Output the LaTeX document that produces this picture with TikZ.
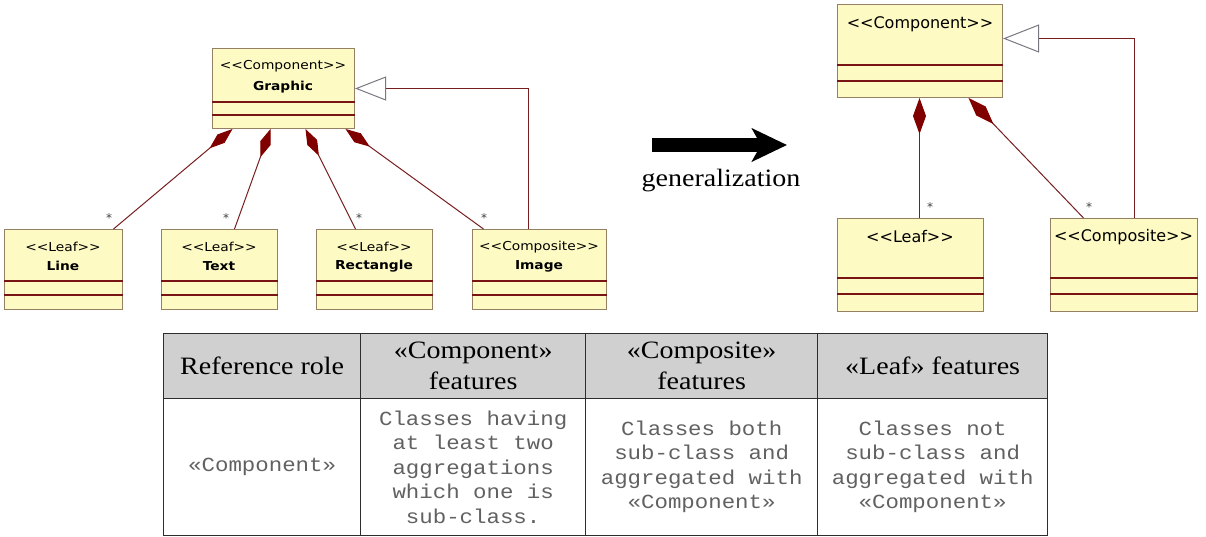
\documentclass[tikz,border=0pt]{standalone}
\usepackage{fontspec}
\usetikzlibrary{arrows.meta,calc}

% fonts
\newfontfamily\umlfont[FakeStretch=1.12]{DejaVu Sans}
\newfontfamily\umlbig{DejaVu Sans}
\newfontfamily\tabserif[FakeStretch=1.12]{Liberation Serif}
\newfontfamily\tabmono[FakeStretch=1.12]{Liberation Mono}

% colours
\definecolor{classfill}{RGB}{253,250,196}
\definecolor{classedge}{RGB}{150,128,100}
\definecolor{sepline}{RGB}{120,20,20}
\definecolor{assoc}{RGB}{120,30,30}
\definecolor{diam}{RGB}{128,0,0}
\definecolor{trigray}{RGB}{120,120,130}
\definecolor{headfill}{RGB}{208,208,208}
\definecolor{tabrule}{RGB}{45,45,45}

\tikzset{
  classbox/.style={draw=classedge, fill=classfill, line width=1pt, rectangle,
    inner sep=0pt, anchor=north west},
  sepl/.style={draw=sepline, line width=1.1pt},
  stereo/.style={font=\umlfont\fontsize{12.3}{14}\selectfont, inner sep=0pt},
  cname/.style={font=\umlfont\bfseries\fontsize{12.3}{14}\selectfont, inner sep=0pt},
  stereobig/.style={font=\umlbig\fontsize{16}{19}\selectfont, inner sep=0pt},
  mult/.style={font=\umlbig\fontsize{12}{14}\selectfont, text=black!75, inner sep=0pt},
  assocline/.style={draw=assoc, line width=1pt},
  compsmall/.style={assocline, {Diamond[length=30pt,width=11pt,color=diam,fill=diam]}-},
  compbig/.style={assocline, {Diamond[length=36pt,width=13pt,color=diam,fill=diam]}-},
  gensmall/.style={assocline, -{Triangle[open,length=31pt,width=24pt,color=trigray,fill=white]}},
  genbig/.style={assocline, -{Triangle[open,length=36pt,width=28pt,color=trigray,fill=white]}},
  cell/.style={draw=tabrule, line width=1.3pt, rectangle, inner sep=0pt,
    anchor=north west, align=center},
  headcell/.style={cell, fill=headfill, minimum height=65pt,
    font=\tabserif\fontsize{25}{31}\selectfont},
  bodycell/.style={cell, fill=white, minimum height=136.5pt,
    font=\tabmono\fontsize{20}{24.5}\selectfont, text=black!62},
}

\begin{document}
\begin{tikzpicture}[x=1pt, y=-1pt]
\useasboundingbox (0,0) rectangle (1206,536);

% ---------- concrete model (left) ----------
\node[classbox, minimum width=142pt, minimum height=80pt] (graphic) at (212,48) {};
\draw[sepl] (graphic.west |- 0,102) -- (graphic.east |- 0,102);
\draw[sepl] (graphic.west |- 0,115) -- (graphic.east |- 0,115);
\node[stereo] (graphicS) at (283,66) {<<Component>>};
\node[cname] (graphicN) at (283,87) {Graphic};

\node[classbox, minimum width=118pt, minimum height=80pt] (cline) at (4,229) {};
\node[classbox, minimum width=116pt, minimum height=80pt] (ctext) at (161,229) {};
\node[classbox, minimum width=116pt, minimum height=80pt] (crect) at (316,229) {};
\node[classbox, minimum width=134pt, minimum height=80pt] (cimage) at (472,229) {};
\foreach \c in {cline,ctext,crect,cimage}{
  \draw[sepl] (\c.west |- 0,281) -- (\c.east |- 0,281);
  \draw[sepl] (\c.west |- 0,295) -- (\c.east |- 0,295);
}
\node[stereo] (clineS) at (63,247) {<<Leaf>>};
\node[cname] (clineN) at (63,266) {Line};
\node[stereo] (ctextS) at (219,247) {<<Leaf>>};
\node[cname] (ctextN) at (219,266) {Text};
\node[stereo] (crectS) at (374,247) {<<Leaf>>};
\node[cname] (crectN) at (374,266) {Rectangle};
\node[stereo] (cimageS) at (539,247) {<<Composite>>};
\node[cname] (cimageN) at (539,266) {Image};

% compositions
\draw[compsmall] ([xshift=-51pt]graphic.south) -- ([xshift=50pt]cline.north);
\draw[compsmall] ([xshift=-13pt]graphic.south) -- ([xshift=15pt]ctext.north);
\draw[compsmall] ([xshift=22pt]graphic.south) -- ([xshift=-19pt]crect.north);
\draw[compsmall] ([xshift=62pt]graphic.south) -- ([xshift=-56pt]cimage.north);
\node[mult] (m1) at (109,218) {*};
\node[mult] (m2) at (226,218) {*};
\node[mult] (m3) at (359,218) {*};
\node[mult] (m4) at (484,218) {*};

% inheritance
\draw[gensmall] ([xshift=-11pt]cimage.north) |- (graphic.east);

% ---------- generalization arrow ----------
\coordinate (arrowA) at (652,145);
\coordinate (arrowB) at (787,145);
\draw[line width=14pt, -{Stealth[length=35pt,width=33pt,inset=9pt]}] (arrowA) -- (arrowB);
\node[font=\tabserif\fontsize{25}{30}\selectfont, inner sep=0pt] (genlabel) at (721,181) {generalization};

% ---------- pattern (right) ----------
\node[classbox, minimum width=165pt, minimum height=93pt] (comp) at (837,4) {};
\draw[sepl] (comp.west |- 0,65) -- (comp.east |- 0,65);
\draw[sepl] (comp.west |- 0,81) -- (comp.east |- 0,81);
\node[stereobig] (compS) at (920,24) {<<Component>>};

\node[classbox, minimum width=146pt, minimum height=93pt] (leaf) at (837,218) {};
\node[classbox, minimum width=147pt, minimum height=93pt] (compo) at (1050,218) {};
\foreach \c in {leaf,compo}{
  \draw[sepl] (\c.west |- 0,278) -- (\c.east |- 0,278);
  \draw[sepl] (\c.west |- 0,294) -- (\c.east |- 0,294);
}
\node[stereobig] (leafS) at (910,237) {<<Leaf>>};
\node[stereobig] (compoS) at (1123.5,237) {<<Composite>>};

\draw[compbig] ([xshift=-0.5pt]comp.south) -- ([xshift=9pt]leaf.north);
\draw[compbig] ([xshift=48.5pt]comp.south) -- ([xshift=-40.5pt]compo.north);
\node[mult] (m5) at (930,207) {*};
\node[mult] (m6) at (1089,207) {*};

\draw[genbig] ([xshift=10.5pt]compo.north) |- ([yshift=12.5pt]comp.east);

% ---------- role table ----------
\node[headcell, minimum width=197pt] (h1) at (163,333) {Reference role};
\node[headcell, minimum width=225pt] (h2) at (360,333) {«Component»\\features};
\node[headcell, minimum width=232pt] (h3) at (585,333) {«Composite»\\features};
\node[headcell, minimum width=230pt] (h4) at (817,333) {«Leaf» features};

\node[bodycell, minimum width=197pt] (b1) at (163,398) {«Component»};
\node[bodycell, minimum width=225pt] (b2) at (360,398)
  {Classes having\\at least two\\aggregations\\which one is\\sub-class.};
\node[bodycell, minimum width=232pt] (b3) at (585,398)
  {Classes both\\sub-class and\\aggregated with\\«Component»};
\node[bodycell, minimum width=230pt] (b4) at (817,398)
  {Classes not\\sub-class and\\aggregated with\\«Component»};
\end{tikzpicture}
\end{document}
